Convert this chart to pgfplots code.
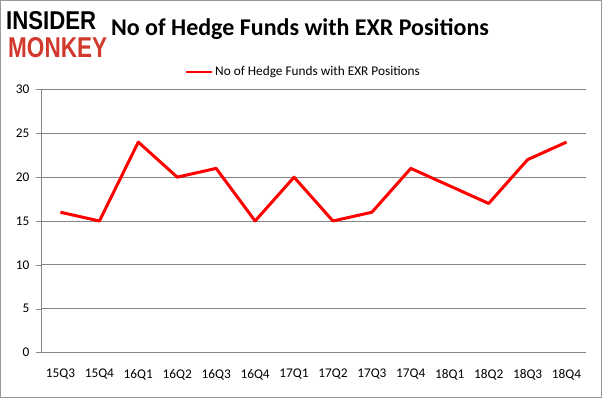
\documentclass[border=0pt]{standalone}
\usepackage{pgfplots}
\pgfplotsset{compat=1.18}
\usepackage{graphicx}
\usepackage{fontspec}
\setmainfont{Carlito}
\newfontfamily\logofont{Liberation Sans}
\definecolor{logored}{RGB}{208,57,43}
\definecolor{gridgray}{RGB}{134,134,134}
\begin{document}
\begin{tikzpicture}[x=1pt,y=1pt]
\draw[gray!80,line width=1pt] (0.5,0.5) rectangle (601.5,397.5);
% logo
\node[anchor=north west,inner sep=0pt] at (6,387) {\resizebox{90pt}{18pt}{\logofont\bfseries INSIDER}};
\node[anchor=north west,inner sep=0pt] at (8,361) {\resizebox{99pt}{20pt}{\logofont\bfseries\color{logored}MONKEY}};
% title
\node[anchor=center,inner sep=0pt] at (300,369) {\fontsize{24}{28}\selectfont\bfseries No of Hedge Funds with EXR Positions};
% legend
\draw[red,line width=2.5pt] (186,326) -- (212,326);
\node[anchor=west,inner sep=0pt] at (215,326) {\fontsize{13.3}{15}\selectfont No of Hedge Funds with EXR Positions};
\begin{axis}[
  at={(41pt,45.5pt)}, anchor=south west,
  scale only axis, width=545pt, height=263pt,
  xmin=-0.5, xmax=13.5, ymin=0, ymax=30,
  axis x line*=bottom, axis y line*=left,
  axis line style={gridgray},
  xtick={0,...,13},
  xticklabels={15Q3,15Q4,16Q1,16Q2,16Q3,16Q4,17Q1,17Q2,17Q3,17Q4,18Q1,18Q2,18Q3,18Q4},
  xtick style={draw=none},
  extra x ticks={-0.5,0.5,...,13.5},
  extra x tick labels={},
  extra x tick style={tick style={draw=gridgray}, grid=none},
  major tick length=5pt,
  ytick={0,5,...,30},
  ymajorgrids,
  grid style={gridgray, line width=0.8pt},
  ytick style={gridgray},
  tick align=outside,
  ticklabel style={font=\fontsize{13.3}{15}\selectfont},
  /pgf/number format/assume math mode=true,
  xticklabel style={yshift=-8pt},
  yticklabel style={xshift=-3pt},
  clip=false,
]
\addplot[red, line width=3pt, line join=round] coordinates {
(0,16) (1,15) (2,24) (3,20) (4,21) (5,15) (6,20) (7,15) (8,16) (9,21) (10,19) (11,17) (12,22) (13,24)
};
\end{axis}
\end{tikzpicture}
\end{document}
